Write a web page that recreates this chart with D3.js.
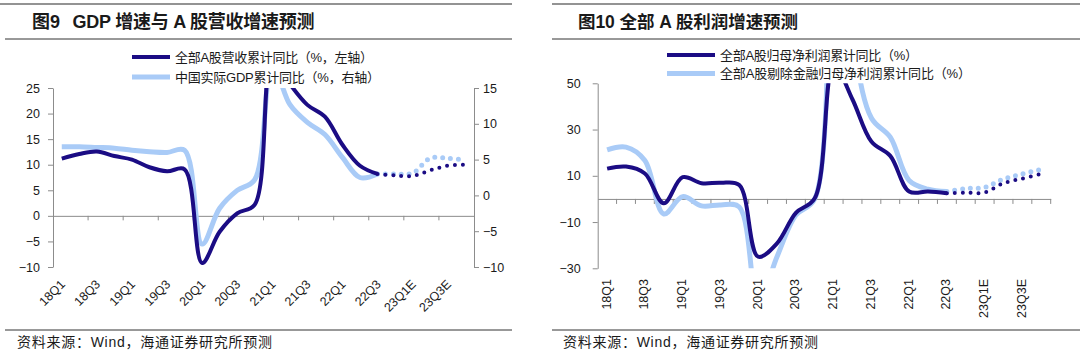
<!DOCTYPE html>
<html>
<head>
<meta charset="utf-8">
<script src="https://cdn.jsdelivr.net/npm/d3@7"></script>
<style>
  body { margin: 0; background: #fff; }
  svg text { font-family: "Liberation Sans", Arial, "Noto Sans CJK SC", sans-serif; fill: #1a1a1a; }
</style>
</head>
<body>
<svg id="chart" width="1080" height="364"></svg>
<script>
// quarters on both x axes, only every other one gets a label
const quarters = ["18Q1", "18Q2", "18Q3", "18Q4", "19Q1", "19Q2", "19Q3", "19Q4",
  "20Q1", "20Q2", "20Q3", "20Q4", "21Q1", "21Q2", "21Q3", "21Q4",
  "22Q1", "22Q2", "22Q3", "22Q4E", "23Q1E", "23Q2E", "23Q3E", "23Q4E"];
const lastActual = 18; // 22Q3 = last reported quarter, after that dotted forecast

// fig 9 (left panel)
const revenueYoy = [11.2, 12.1, 12.6, 11.7, 11.0, 9.5, 8.7, 9.1, -9.2, -3.1, 0.5, 2.2,
  31, 25.8, 21.7, 19.4, 13.9, 9.8, 8.2, 7.9, 7.8, 8.9, 9.8, 10.0];
const gdpYoy = [6.8, 6.8, 6.7, 6.6, 6.3, 6.1, 6.0, 6.3, -6.8, -1.8, 0.7, 2.2,
  18.3, 12.7, 10.2, 8.5, 5.3, 2.5, 3.0, 3.0, 3.1, 5.2, 5.2, 4.9];
const leftTicks = [-10, -5, 0, 5, 10, 15, 20, 25];
const rightTicks = [-10, -5, 0, 5, 10, 15];

// fig 10 (right panel)
const profitYoy = [13.1, 14.0, 11.0, -1.9, 9.4, 6.8, 7.0, 6.0, -25, -19.2, -6.0, 0.3,
  58, 43, 24.8, 18.6, 3.2, 3.2, 2.5, 2.7, 2.8, 6.8, 8.8, 10.8];
const profitExFinYoy = [21.2, 22.4, 16.6, -6.5, 1.0, -3.0, -2.6, -3.5, -45, -25, -7, 0,
  130, 70, 35, 26.7, 8, 4.2, 3.2, 4.5, 5.0, 8.6, 10.8, 12.8];
const profitTicks = [-30, -10, 10, 30, 50];

const DARK = "#1b0c84";
const LIGHT = "#a9cbf7";
const AXIS = "#8c8c8c";
const SOURCE = "资料来源：Wind，海通证券研究所预测";

const svg = d3.select("#chart");
svg.append("rect").attr("width", 1080).attr("height", 364).attr("fill", "#fff");

// text squeezed/stretched to the width it has in the original
function label(x, y, t, size, width) {
  const el = svg.append("text").attr("x", x).attr("y", y)
    .style("font-size", size + "px").text(t);
  if (width) el.attr("textLength", width).attr("lengthAdjust", "spacing");
  return el;
}

// header / footer rules and texts
function frame(x0, x1, ruleX0, titleParts, fontSize, footX) {
  svg.append("line").attr("x1", x0).attr("x2", x1).attr("y1", 4).attr("y2", 4)
    .attr("stroke", "#6f6f6f").attr("stroke-width", 1.5);
  titleParts.forEach(([tx, t, w]) => {
    label(tx, 28, t, fontSize, w).style("font-weight", "bold");
  });
  svg.append("line").attr("x1", ruleX0).attr("x2", x1).attr("y1", 39).attr("y2", 39)
    .attr("stroke", "#333").attr("stroke-width", 1);
  svg.append("line").attr("x1", ruleX0).attr("x2", x1).attr("y1", 330).attr("y2", 330)
    .attr("stroke", "#333").attr("stroke-width", 1);
  label(footX, 347, SOURCE, 14, 255);
}

function legend(x0, x1, ys, labels, widths) {
  [DARK, LIGHT].forEach((c, i) => {
    svg.append("line").attr("x1", x0).attr("x2", x1).attr("y1", ys[i]).attr("y2", ys[i])
      .attr("stroke", c).attr("stroke-width", i ? 5 : 4);
    label(x1 + 5, ys[i], labels[i], 13, widths[i]).attr("dy", "0.36em");
  });
}

function styleAxis(g) {
  g.selectAll(".domain, .tick line").attr("stroke", AXIS);
  g.selectAll(".tick text").style("font-size", "12.5px").attr("fill", "#1a1a1a");
}

// one series = solid part up to lastActual, dotted forecast after it
function series(g, x, y, values, color, width, clipId) {
  const pts = values.map((v, i) => ({ q: quarters[i], v, i }));
  const line = d3.line()
    .x(d => x(d.q) + x.bandwidth() / 2)
    .y(d => y(d.v))
    .curve(d3.curveCatmullRom.alpha(0.5));
  g.append("path").datum(pts.filter(d => d.i <= lastActual))
    .attr("clip-path", `url(#${clipId})`)
    .attr("d", line).attr("fill", "none")
    .attr("stroke", color).attr("stroke-width", width).attr("stroke-linejoin", "round");
  g.append("path").datum(pts.filter(d => d.i >= lastActual))
    .attr("clip-path", `url(#${clipId})`)
    .attr("d", line).attr("fill", "none")
    .attr("stroke", color).attr("stroke-width", width)
    .attr("stroke-linecap", "round").attr("stroke-dasharray", "0 7.9");
}

function clip(id, x0, x1, y0, y1) {
  svg.append("clipPath").attr("id", id).append("rect")
    .attr("x", x0).attr("y", y0).attr("width", x1 - x0).attr("height", y1 - y0);
}

// ---------- fig 9 ----------
frame(0, 512, 5, [[32, "图9"], [72.5, "GDP 增速与 A 股营收增速预测", 242]], 18, 17);
legend(132, 170, [57, 77], ["全部A股营收累计同比（%，左轴）", "中国实际GDP累计同比（%，右轴）"], [198, 205]);

const x1 = d3.scaleBand().domain(quarters).range([53, 474]);
const yL = d3.scaleLinear().domain([-10, 25]).range([267, 88]);
const yR = d3.scaleLinear().domain([-10, 15]).range([267, 88]);
clip("clipL", 53, 474, 88, 267);

const p1 = svg.append("g");
// zero line with a tick every two quarters
p1.append("g").attr("transform", `translate(0,${yL(0)})`)
  .call(d3.axisBottom(x1).tickValues([]).tickSizeOuter(0)).call(styleAxis);
p1.selectAll(".xtick").data(quarters.filter((q, i) => i % 2 === 0 && i > 0)).join("line")
  .attr("x1", d => x1(d)).attr("x2", d => x1(d))
  .attr("y1", yL(0)).attr("y2", yL(0) + 4.5).attr("stroke", AXIS);
p1.append("g").attr("transform", "translate(53,0)")
  .call(d3.axisLeft(yL).tickValues(leftTicks).tickSize(5).tickPadding(8).tickSizeOuter(0))
  .call(styleAxis);
p1.append("g").attr("transform", "translate(474,0)")
  .call(d3.axisRight(yR).tickValues(rightTicks).tickSize(5).tickPadding(4).tickSizeOuter(0))
  .call(styleAxis);
p1.selectAll(".xlab").data(quarters.filter((q, i) => i % 2 === 0)).join("text")
  .attr("transform", d => `translate(${x1(d) + x1.bandwidth() / 2 + 1},282) rotate(-45)`)
  .attr("text-anchor", "end").attr("dy", "0.35em")
  .style("font-size", "12.5px").text(d => d);

series(p1, x1, yR, gdpYoy, LIGHT, 5, "clipL");
series(p1, x1, yL, revenueYoy, DARK, 4, "clipL");

// ---------- fig 10 ----------
frame(552, 1080, 552, [[578, "图10 全部 A 股利润增速预测", 220]], 17.5, 563);
legend(667, 715, [55, 73.5], ["全部A股归母净利润累计同比（%）", "全部A股剔除金融归母净利润累计同比（%）"], [198, 251]);

const x2 = d3.scaleBand().domain(quarters).range([597.7, 1050.7]);
const y2 = d3.scaleLinear().domain([-30, 50]).range([268.3, 83.3]);
clip("clipR", 597.7, 1050.7, 83.3, 268.3);

const p2 = svg.append("g");
p2.append("g").attr("transform", `translate(0,${y2(0)})`)
  .call(d3.axisBottom(x2).tickValues([]).tickSizeOuter(0)).call(styleAxis);
p2.selectAll(".xtick").data(quarters.slice(1).map(q => x2(q)).concat([x2.range()[1]])).join("line")
  .attr("x1", d => d).attr("x2", d => d)
  .attr("y1", y2(0)).attr("y2", y2(0) + 5).attr("stroke", AXIS);
p2.append("g").attr("transform", "translate(597.7,0)")
  .call(d3.axisLeft(y2).tickValues(profitTicks).tickSize(5).tickPadding(12).tickSizeOuter(0))
  .call(styleAxis);
p2.selectAll(".xlab").data(quarters.filter((q, i) => i % 2 === 0)).join("text")
  .attr("transform", d => `translate(${x2(d) + x2.bandwidth() / 2 - 1},279) rotate(-90)`)
  .attr("text-anchor", "end").attr("dy", "0.35em")
  .style("font-size", "12.5px").text(d => d);

series(p2, x2, y2, profitExFinYoy, LIGHT, 5, "clipR");
series(p2, x2, y2, profitYoy, DARK, 4, "clipR");
</script>
</body>
</html>
